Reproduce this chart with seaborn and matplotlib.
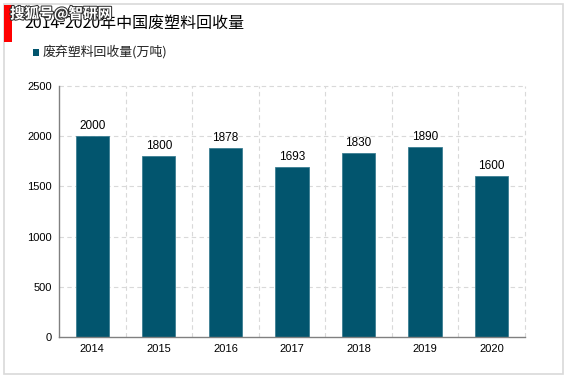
import matplotlib
matplotlib.use("Agg")
import matplotlib.pyplot as plt
import matplotlib.patheffects as pe
from matplotlib.patches import Rectangle
import seaborn as sns
import pandas as pd

years = ["2014", "2015", "2016", "2017", "2018", "2019", "2020"]
values = [2000, 1800, 1878, 1693, 1830, 1890, 1600]
yticks = [0, 500, 1000, 1500, 2000, 2500]
title = "2014-2020年中国废塑料回收量"
series_name = "废弃塑料回收量(万吨)"
watermark = "搜狐号@智研网"

sns.set_theme(style="white")
plt.rcParams['font.family'] = ['Noto Sans CJK SC', 'DejaVu Sans']

df = pd.DataFrame({"year": years, "value": values})

fig = plt.figure(figsize=(5.67, 3.78), dpi=100)
ax = fig.add_axes([59/567, 1-337/378, 466/567, 251/378])

bar_color = "#02556E"
sns.barplot(data=df, x="year", y="value", color=bar_color, width=0.5,
            saturation=1, ax=ax, edgecolor="#3d7f93", linewidth=0.6)

ax.set_ylim(0, 2500)
ax.set_xlim(-0.5, len(years) - 0.5)
ax.set_yticks(yticks)
ax.set_xlabel("")
ax.set_ylabel("")
ax.tick_params(axis="both", labelsize=8, colors="#000000", length=0, pad=5)
for lab in ax.get_xticklabels() + ax.get_yticklabels():
    lab.set_family(['Liberation Sans', 'DejaVu Sans'])

# grid
for y in yticks[1:]:
    ax.axhline(y, color="#d9d9d9", linestyle=(0, (4, 3)), linewidth=0.8, zorder=0, clip_on=False)
for i in range(len(years)):
    ax.axvline(i + 0.5, color="#d9d9d9", linestyle=(0, (4, 3)), linewidth=0.8, zorder=0, clip_on=False)

for s in ["top", "right"]:
    ax.spines[s].set_visible(False)
ax.spines["left"].set_color("#808080")
ax.spines["bottom"].set_color("#808080")
ax.spines["left"].set_linewidth(1.0)
ax.spines["bottom"].set_linewidth(1.0)

for i, v in enumerate(values):
    ax.text(i, v + 45, f"{v}", ha="center", va="bottom", fontsize=8.5,
            family=['Liberation Sans', 'DejaVu Sans'], color="#000000")

# figure border
fig.patches.append(Rectangle((4/567, 4/378), 559/567, 370/378, transform=fig.transFigure,
                             fill=False, edgecolor="#d9d9d9", linewidth=1.2))
# red bar
fig.patches.append(Rectangle((4/567, 1-42/378), 8/567, 37/378, transform=fig.transFigure,
                             facecolor="#ff0000", edgecolor="none"))

fig.text(24/567, 1-23/378, title, fontsize=11.5, va="center", ha="left", color="#000000")

# legend
fig.patches.append(Rectangle((33/567, 1-55.5/378), 6/567, 6/378, transform=fig.transFigure,
                             facecolor=bar_color, edgecolor="none"))
fig.text(43/567, 1-52/378, series_name, fontsize=9.3, va="center", ha="left", color="#222222")

# watermark
fig.text(10/567, 1-14/378, watermark, fontsize=10.5, va="center", ha="left", color="white",
         fontweight="bold",
         path_effects=[pe.withStroke(linewidth=1.5, foreground="#333333")])

fig.savefig("out.png", dpi=100)
